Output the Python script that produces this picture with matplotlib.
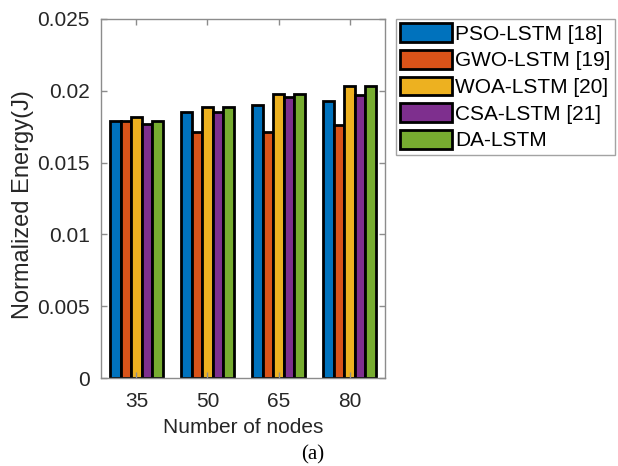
import numpy as np
import matplotlib
matplotlib.use('Agg')
import matplotlib.pyplot as plt

plt.rcParams['font.family'] = ['Liberation Sans', 'DejaVu Sans']

# energy per method for each network size
nodes = ['35', '50', '65', '80']
methods = ['PSO-LSTM [18]', 'GWO-LSTM [19]', 'WOA-LSTM [20]', 'CSA-LSTM [21]', 'DA-LSTM']
pso = [0.0179, 0.0185, 0.0190, 0.0193]
gwo = [0.0179, 0.0171, 0.0171, 0.0176]
woa = [0.0182, 0.0189, 0.0198, 0.0203]
csa = [0.0177, 0.0185, 0.0196, 0.0197]
da = [0.0179, 0.0189, 0.0198, 0.0203]
yticks = [0, 0.005, 0.01, 0.015, 0.02, 0.025]
yticklabels = ['0', '0.005', '0.01', '0.015', '0.02', '0.025']

colors = ['#0072BD', '#D95319', '#EDB120', '#7E2F8E', '#77AC30']
series = [pso, gwo, woa, csa, da]

fig = plt.figure(figsize=(6.18, 4.66), dpi=100)
ax = fig.add_axes([0.1634, 0.1888, 0.4596, 0.7705])

x = np.arange(1, len(nodes) + 1)
w = 0.15
for i, (vals, c, lab) in enumerate(zip(series, colors, methods)):
    ax.bar(x + (i - 2) * w, vals, w, color=c, edgecolor='black', linewidth=2.0, label=lab)

ax.set_xlim(0.5, 4.5)
ax.set_ylim(0, 0.025)
ax.set_xticks(x)
ax.set_xticklabels(nodes)
ax.set_yticks(yticks)
ax.set_yticklabels(yticklabels)

gray = '#8c8c8c'
for s in ax.spines.values():
    s.set_color(gray)
    s.set_linewidth(1.0)
ax.tick_params(direction='in', length=4, width=1, color=gray, top=True, right=True,
               labelsize=15, labelcolor='#262626')
ax.tick_params(axis='x', pad=10)
ax.tick_params(axis='y', pad=8)

ax.set_xlabel('Number of nodes', fontsize=15, color='#262626', labelpad=5)
ax.set_ylabel('Normalized Energy(J)', fontsize=17, color='#262626')
ax.yaxis.set_label_coords(-0.236, 0.482)

leg = fig.legend(loc='upper left', bbox_to_anchor=(396 / 618, 1 - 19 / 466),
                 fontsize=15, frameon=True, fancybox=False, borderaxespad=0,
                 handlelength=2.5, handleheight=1.0, handletextpad=0.15,
                 labelspacing=0.3, borderpad=0.2)
leg.get_frame().set_edgecolor(gray)
leg.get_frame().set_linewidth(1.0)

fig.text(313 / 618, 1 - 455 / 466, '(a)', family='Liberation Serif', fontsize=15,
         ha='center', va='center', color='black')

fig.savefig('out.png', dpi=100)
